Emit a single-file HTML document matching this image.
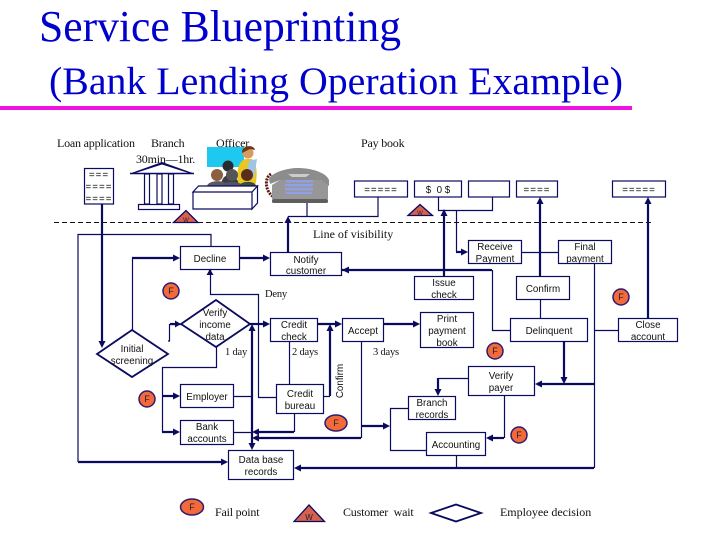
<!DOCTYPE html>
<html><head><meta charset="utf-8"><style>
html,body{margin:0;padding:0;background:#fff}
svg{display:block}
.s{font-family:"Liberation Serif",serif;font-size:12px;fill:#111;letter-spacing:-.2px}
.a{font-family:"Liberation Sans",sans-serif;font-size:9.8px;fill:#111;text-anchor:middle}
.f{font-family:"Liberation Sans",sans-serif;font-size:9px;fill:#222;text-anchor:middle}
.b{fill:#fff;stroke:#0a0a60;stroke-width:1.2}
.t{fill:none;stroke:#0a0a60;stroke-width:1.2}
.k{fill:none;stroke:#0a0a60;stroke-width:2.2}
.h{fill:#0a0a60}
.c{fill:#f26a3c;stroke:#301a70;stroke-width:1.5}
.w{fill:#d8604f;stroke:#0a0a60;stroke-width:1.3}
</style></head><body>
<svg width="720" height="540" viewBox="0 0 720 540" xmlns="http://www.w3.org/2000/svg">
<rect width="720" height="540" fill="#fff"/>
<text x="39" y="41" textLength="362" lengthAdjust="spacingAndGlyphs" font-family="Liberation Serif,serif" font-size="44" fill="#0000cc">Service Blueprinting</text>
<text x="49" y="94" textLength="574" lengthAdjust="spacingAndGlyphs" font-family="Liberation Serif,serif" font-size="39" fill="#0000cc">(Bank Lending Operation Example)</text>
<rect x="0" y="106" width="632" height="4" fill="#f010e0"/>

<text class="s" x="57" y="147">Loan application</text>
<text class="s" x="151" y="147">Branch</text>
<text class="s" x="216" y="147">Officer</text>
<text class="s" x="361" y="147">Pay book</text>
<text class="s" x="136" y="163">30min—1hr.</text>
<text class="s" x="313" y="238" textLength="80">Line of visibility</text>

<!-- officer picture -->
<rect x="207" y="147" width="37" height="20" fill="#1fc8ee"/>
<path d="M238 186 C236 168 239 162 245 159 L252 159 C257 163 258 176 255 186 Z" fill="#e8c820"/>
<path d="M249 161 L257 159 L254 178 L246 175 Z" fill="#9fc4ea"/>
<circle cx="248" cy="153" r="5.500" fill="#d89a60"/><path d="M242 153 C241 145 254 144 255 150 L250 149Z" fill="#6a3a18"/>
<circle cx="228" cy="166" r="5.500" fill="#2a2a30"/><path d="M221 186 C221 172 237 170 239 186 Z" fill="#3a3a48"/>
<circle cx="217" cy="175" r="6" fill="#8a6040"/><path d="M207 186 C208 180 226 179 228 186 Z" fill="#5a5a60"/>
<circle cx="232" cy="175" r="6" fill="#555"/><path d="M221 186 C222 181 241 180 242 186 Z" fill="#555560"/>
<circle cx="247" cy="175" r="6" fill="#5a2e18"/><path d="M239 186 C240 181 255 180 256 186 Z" fill="#3a4a3a"/>
<!-- phone -->
<path d="M271 174 C264 178 265 192 274 197" fill="none" stroke="#5a1a10" stroke-width="3" stroke-dasharray="2 1"/>
<path d="M269 179 C272 172 288 168 298 168 C310 168 326 172 329 180 L329 186 L320 180 L280 180 L270 184 Z" fill="#8c8c8c"/>
<path d="M280 180 L320 180 L328 185 L328 199 L272 199 L272 185 Z" fill="#979797"/>
<rect x="272" y="199" width="56" height="4" rx="1.500" fill="#5e5e5e"/>
<path d="M288 174 L310 174 L306 177 L292 177 Z" fill="#ccc"/>
<g fill="#8f9fe8"><rect x="286" y="180" width="27" height="2.400"/><rect x="285" y="184" width="28" height="2.400"/><rect x="285" y="188" width="28" height="2.400"/><rect x="286" y="192" width="26" height="2"/></g>

<!-- form + bank + desk -->
<rect class="b" x="84.500" y="168.500" width="29" height="35.500"/>
<text class="a" x="99" y="178" letter-spacing="1">===</text>
<text class="a" x="99" y="190" letter-spacing="1">====</text>
<text class="a" x="99" y="202" letter-spacing="1">====</text>
<path class="h" d="M130 173.500 L162 162 L194 173.500 L190 173.500 L162 164.500 L134 173.500Z"/>
<path class="t" d="M130 173.500H194" style="stroke-width:1.500"/>
<rect class="b" x="144.500" y="174" width="5" height="30"/>
<rect class="b" x="157" y="174" width="5" height="30"/>
<rect class="b" x="168.500" y="174" width="5" height="30"/>
<rect class="b" x="138.500" y="204.500" width="41" height="5"/>
<path class="b" d="M193 192 L198.500 186 L257.500 186 L252 192 Z M252 192 L257.500 186 L257.500 203 L252 209 Z M193 192 H252 V209 H193 Z"/>

<!-- dashed line -->
<path d="M54 222.500 H653" stroke="#111" stroke-width="1" stroke-dasharray="5 3" fill="none"/>

<!-- top boxes -->
<rect class="b" x="354.500" y="181" width="53" height="16"/>
<rect class="b" x="414.500" y="181" width="47" height="16"/>
<rect class="b" x="468.500" y="181" width="41" height="16"/>
<rect class="b" x="516.500" y="181" width="41" height="16"/>
<rect class="b" x="612.500" y="181" width="53" height="16"/>
<text class="a" x="381" y="193" letter-spacing="1">=====</text>
<text class="a" x="438" y="193" font-size="10.500" xml:space="preserve">$  0 $</text>
<text class="a" x="537" y="193" letter-spacing="1">====</text>
<text class="a" x="639" y="193" letter-spacing="1">=====</text>

<!-- thin lines -->
<g class="t">
<path d="M78 462 V234.500 H211 V247"/>
<path d="M307 203 V216.500"/>
<path d="M378 197 V216.500 H288"/>
<path d="M438.500 197 V210.500 H492.500 V197"/>
<path d="M456.500 210 V252"/>
<path d="M522 252.500 H558"/>
<path d="M492.500 270 V330.500 H510"/>
<path d="M540.500 300 V318"/>
<path d="M594.500 263 V468"/>
<path d="M594 330.500 H618"/>
<path d="M504.500 395 V438"/>
<path d="M468 378.500 H438"/>
<path d="M408 408.500 H390.500 V450.500 H426"/>
<path d="M456.500 456 V468"/>
<path d="M361.500 341 V438"/>
<path d="M289.500 341 V384"/>
<path d="M210.500 269 V294.500 H258.500 V397.500 H276"/>
<path d="M234 396.500 H252"/>
<path d="M234 432.500 H252"/>
<path d="M294.500 413 V432"/>
<path d="M324 396.500 H330"/>
<path d="M216.500 347 V367.500 H162.500 V432"/>
<path d="M132.500 330 V258"/>
<path d="M168 341 H169.500 V324.500 H181"/>
</g>

<!-- thick lines -->
<g class="k">
<path d="M102 204 V344"/>
<path d="M288 252 V222"/>
<path d="M444 276 V215"/>
<path d="M540 276 V202"/>
<path d="M648 318 V202"/>
<path d="M342 270 H492"/>
<path d="M132 258 H176"/>
<path d="M240 258 H266"/>
<path d="M170 324 H178"/>
<path d="M250 324 H266"/>
<path d="M318 324 H338"/>
<path d="M384 324 H416"/>
<path d="M330 396 V329"/>
<path d="M456 252 H464"/>
<path d="M564 341 V380"/>
<path d="M594 384 H540"/>
<path d="M438 378 V392"/>
<path d="M504 438 H491"/>
<path d="M361 426 H386"/>
<path d="M361 438 H257"/>
<path d="M294 432 H257"/>
<path d="M594 468 H299"/>
<path d="M78 462 H224"/>
<path d="M252 329 V446"/>
<path d="M162 396 H176"/>
<path d="M162 432 H176"/>
<path d="M210 269 V274"/>
</g>

<!-- arrowheads -->
<g class="h">
<path d="M102 348 L98.500 341 H105.500Z"/>
<path d="M288 216 L284.500 223 H291.500Z"/>
<path d="M444 209 L440.500 216 H447.500Z"/>
<path d="M540 197 L536.500 204 H543.500Z"/>
<path d="M648 197 L644.500 204 H651.500Z"/>
<path d="M180 258 L173 254.500 V261.500Z"/>
<path d="M270 258 L263 254.500 V261.500Z"/>
<path d="M342 270 L349 266.500 V273.500Z"/>
<path d="M181 324 L175 320.500 V327.500Z"/>
<path d="M270 324 L263 320.500 V327.500Z"/>
<path d="M342 324 L335 320.500 V327.500Z"/>
<path d="M420 324 L413 320.500 V327.500Z"/>
<path d="M330 324 L326.500 331 H333.500Z"/>
<path d="M468 252 L461 248.500 V255.500Z"/>
<path d="M564 384 L560.500 377 H567.500Z"/>
<path d="M535 384 L542 380.500 V387.500Z"/>
<path d="M438 396 L434.500 389 H441.500Z"/>
<path d="M486 438 L493 434.500 V441.500Z"/>
<path d="M390 426 L383 422.500 V429.500Z"/>
<path d="M252 438 L259 434.500 V441.500Z"/>
<path d="M252 432 L259 428.500 V435.500Z"/>
<path d="M294 468 L301 464.500 V471.500Z"/>
<path d="M228 462 L221 458.500 V465.500Z"/>
<path d="M252 450 L248.500 443 H255.500Z"/>
<path d="M252 324 L248.500 331 H255.500Z"/>
<path d="M180 396 L173 392.500 V399.500Z"/>
<path d="M180 432 L173 428.500 V435.500Z"/>
<path d="M210 269 L206.500 275 H213.500Z"/>
</g>

<!-- nodes -->
<rect class="b" x="180.500" y="246.500" width="59" height="23"/>
<rect class="b" x="270.500" y="252.500" width="71" height="23"/>
<rect class="b" x="468.500" y="240.500" width="53" height="23"/>
<rect class="b" x="558.500" y="240.500" width="53" height="23"/>
<rect class="b" x="414.500" y="276.500" width="59" height="23"/>
<rect class="b" x="516.500" y="276.500" width="53" height="23"/>
<rect class="b" x="270.500" y="318.500" width="47" height="23"/>
<rect class="b" x="342.500" y="318.500" width="41" height="23"/>
<rect class="b" x="420.500" y="312.500" width="53" height="35"/>
<rect class="b" x="510.500" y="318.500" width="77" height="23"/>
<rect class="b" x="618.500" y="318.500" width="59" height="23"/>
<rect class="b" x="468.500" y="366.500" width="66" height="29"/>
<rect class="b" x="276.500" y="384.500" width="47" height="29"/>
<rect class="b" x="180.500" y="384.500" width="53" height="23"/>
<rect class="b" x="180.500" y="420.500" width="53" height="24"/>
<rect class="b" x="408.500" y="396.500" width="47" height="23"/>
<rect class="b" x="426.500" y="432.500" width="59" height="23"/>
<rect class="b" x="228.500" y="450.500" width="65" height="29"/>
<path class="b" style="stroke-width:1.800" d="M181 324 L216 300 L250 324 L216 347 Z"/>
<path class="b" style="stroke-width:1.800" d="M97 354 L132 330 L168 354 L132 377 Z"/>

<g>
<text class="a" x="210" y="262">Decline</text>
<text class="a" x="306" y="263">Notify</text><text class="a" x="306" y="274">customer</text>
<text class="a" x="495" y="250">Receive</text><text class="a" x="495" y="262">Payment</text>
<text class="a" x="585" y="250">Final</text><text class="a" x="585" y="262">payment</text>
<text class="a" x="444" y="286">Issue</text><text class="a" x="444" y="298">check</text>
<text class="a" x="543" y="292">Confirm</text>
<text class="a" x="294" y="328">Credit</text><text class="a" x="294" y="340">check</text>
<text class="a" x="363" y="334">Accept</text>
<text class="a" x="447" y="322">Print</text><text class="a" x="447" y="334">payment</text><text class="a" x="447" y="346">book</text>
<text class="a" x="549" y="334">Delinquent</text>
<text class="a" x="648" y="328">Close</text><text class="a" x="648" y="340">account</text>
<text class="a" x="501" y="379">Verify</text><text class="a" x="501" y="391">payer</text>
<text class="a" x="300" y="397">Credit</text><text class="a" x="300" y="409">bureau</text>
<text class="a" x="207" y="400">Employer</text>
<text class="a" x="207" y="430">Bank</text><text class="a" x="207" y="442">accounts</text>
<text class="a" x="432" y="406">Branch</text><text class="a" x="432" y="418">records</text>
<text class="a" x="456" y="448">Accounting</text>
<text class="a" x="261" y="463">Data base</text><text class="a" x="261" y="475">records</text>
<text class="a" x="215" y="316">Verify</text><text class="a" x="215" y="328">income</text><text class="a" x="215" y="340">data</text>
<text class="a" x="132" y="352">Initial</text><text class="a" x="132" y="364">screening</text>
<text class="a" transform="translate(343,381) rotate(-90)">Confirm</text>
</g>
<text class="s" x="265" y="297" style="font-size:10.500px">Deny</text>
<text class="s" x="225" y="355" style="font-size:10.500px">1 day</text>
<text class="s" x="292" y="355" style="font-size:10.500px">2 days</text>
<text class="s" x="373" y="355" style="font-size:10.500px">3 days</text>

<!-- F markers -->
<circle class="c" cx="171" cy="291" r="8"/><text class="f" x="171" y="294">F</text>
<circle class="c" cx="147" cy="399" r="8"/><text class="f" x="147" y="402">F</text>
<ellipse class="c" cx="336" cy="423" rx="11" ry="8"/><text class="f" x="336" y="426">F</text>
<circle class="c" cx="621" cy="297" r="8"/><text class="f" x="621" y="300">F</text>
<circle class="c" cx="495" cy="351" r="8"/><text class="f" x="495" y="354">F</text>
<circle class="c" cx="519" cy="435" r="8"/><text class="f" x="519" y="438">F</text>
<ellipse class="c" cx="192" cy="507" rx="11.500" ry="8"/><text class="f" x="192" y="510">F</text>

<!-- W markers -->
<path class="w" d="M173.500 222.500 L186 210.500 L198 222.500 Z"/><text class="f" x="186" y="222" style="font-size:6px">W</text>
<path class="w" d="M408 215.500 L420 204.500 L432.500 215.500 Z"/><text class="f" x="420" y="215" style="font-size:6px">W</text>
<path class="w" d="M294 521.500 L309 505 L324.500 521.500 Z"/><text class="f" x="309" y="520" style="font-size:8px">W</text>

<!-- legend -->
<text class="s" x="215" y="516">Fail point</text>
<text class="s" x="343" y="516" xml:space="preserve">Customer  wait</text>
<path class="t" style="stroke-width:1.800" d="M431 513 L456 504.500 L481 513 L456 521.500 Z"/>
<text class="s" x="500" y="516" textLength="91">Employee decision</text>
</svg>
</body></html>
